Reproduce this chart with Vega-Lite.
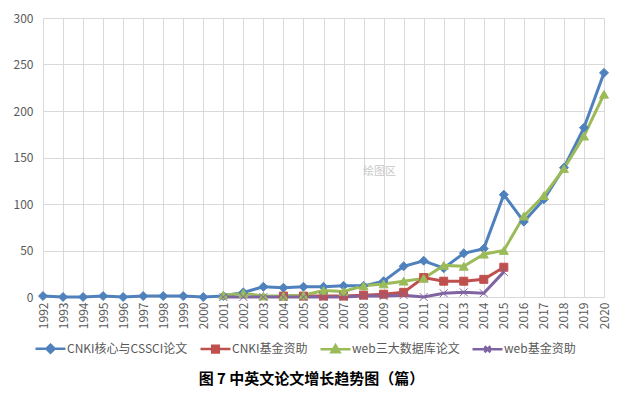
{
  "$schema": "https://vega.github.io/schema/vega-lite/v6.json",
  "width": 561,
  "height": 279,
  "autosize": "none",
  "padding": {"left": 43, "top": 18, "right": 25, "bottom": 101},
  "background": "white",
  "title": {
    "text": "图 7  中英文论文增长趋势图（篇）",
    "orient": "bottom",
    "anchor": "middle",
    "dx": -12,
    "offset": 14,
    "font": "Noto Sans CJK SC",
    "fontSize": 15,
    "fontWeight": "bold",
    "color": "#000000"
  },
  "data": {
    "values": [
      {"year": "1992", "series": "CNKI核心与CSSCI论文", "value": 1},
      {"year": "1993", "series": "CNKI核心与CSSCI论文", "value": 0},
      {"year": "1994", "series": "CNKI核心与CSSCI论文", "value": 0},
      {"year": "1995", "series": "CNKI核心与CSSCI论文", "value": 1},
      {"year": "1996", "series": "CNKI核心与CSSCI论文", "value": 0},
      {"year": "1997", "series": "CNKI核心与CSSCI论文", "value": 1},
      {"year": "1998", "series": "CNKI核心与CSSCI论文", "value": 1},
      {"year": "1999", "series": "CNKI核心与CSSCI论文", "value": 1},
      {"year": "2000", "series": "CNKI核心与CSSCI论文", "value": 0},
      {"year": "2001", "series": "CNKI核心与CSSCI论文", "value": 1},
      {"year": "2002", "series": "CNKI核心与CSSCI论文", "value": 5},
      {"year": "2003", "series": "CNKI核心与CSSCI论文", "value": 11},
      {"year": "2004", "series": "CNKI核心与CSSCI论文", "value": 10},
      {"year": "2005", "series": "CNKI核心与CSSCI论文", "value": 11},
      {"year": "2006", "series": "CNKI核心与CSSCI论文", "value": 11},
      {"year": "2007", "series": "CNKI核心与CSSCI论文", "value": 12},
      {"year": "2008", "series": "CNKI核心与CSSCI论文", "value": 12},
      {"year": "2009", "series": "CNKI核心与CSSCI论文", "value": 17},
      {"year": "2010", "series": "CNKI核心与CSSCI论文", "value": 33},
      {"year": "2011", "series": "CNKI核心与CSSCI论文", "value": 39},
      {"year": "2012", "series": "CNKI核心与CSSCI论文", "value": 31},
      {"year": "2013", "series": "CNKI核心与CSSCI论文", "value": 47},
      {"year": "2014", "series": "CNKI核心与CSSCI论文", "value": 52},
      {"year": "2015", "series": "CNKI核心与CSSCI论文", "value": 110},
      {"year": "2016", "series": "CNKI核心与CSSCI论文", "value": 81},
      {"year": "2017", "series": "CNKI核心与CSSCI论文", "value": 105},
      {"year": "2018", "series": "CNKI核心与CSSCI论文", "value": 139},
      {"year": "2019", "series": "CNKI核心与CSSCI论文", "value": 182},
      {"year": "2020", "series": "CNKI核心与CSSCI论文", "value": 241},
      {"year": "2004", "series": "CNKI基金资助", "value": 1},
      {"year": "2005", "series": "CNKI基金资助", "value": 1},
      {"year": "2006", "series": "CNKI基金资助", "value": 1},
      {"year": "2007", "series": "CNKI基金资助", "value": 1},
      {"year": "2008", "series": "CNKI基金资助", "value": 2},
      {"year": "2009", "series": "CNKI基金资助", "value": 3},
      {"year": "2010", "series": "CNKI基金资助", "value": 5},
      {"year": "2011", "series": "CNKI基金资助", "value": 21},
      {"year": "2012", "series": "CNKI基金资助", "value": 17},
      {"year": "2013", "series": "CNKI基金资助", "value": 17},
      {"year": "2014", "series": "CNKI基金资助", "value": 19},
      {"year": "2015", "series": "CNKI基金资助", "value": 32},
      {"year": "2001", "series": "web三大数据库论文", "value": 2},
      {"year": "2002", "series": "web三大数据库论文", "value": 4},
      {"year": "2003", "series": "web三大数据库论文", "value": 1},
      {"year": "2004", "series": "web三大数据库论文", "value": 1},
      {"year": "2005", "series": "web三大数据库论文", "value": 2},
      {"year": "2006", "series": "web三大数据库论文", "value": 7},
      {"year": "2007", "series": "web三大数据库论文", "value": 6},
      {"year": "2008", "series": "web三大数据库论文", "value": 12},
      {"year": "2009", "series": "web三大数据库论文", "value": 14},
      {"year": "2010", "series": "web三大数据库论文", "value": 17},
      {"year": "2011", "series": "web三大数据库论文", "value": 20},
      {"year": "2012", "series": "web三大数据库论文", "value": 34},
      {"year": "2013", "series": "web三大数据库论文", "value": 33},
      {"year": "2014", "series": "web三大数据库论文", "value": 46},
      {"year": "2015", "series": "web三大数据库论文", "value": 50},
      {"year": "2016", "series": "web三大数据库论文", "value": 87},
      {"year": "2017", "series": "web三大数据库论文", "value": 109},
      {"year": "2018", "series": "web三大数据库论文", "value": 138},
      {"year": "2019", "series": "web三大数据库论文", "value": 173},
      {"year": "2020", "series": "web三大数据库论文", "value": 218},
      {"year": "2001", "series": "web基金资助", "value": 0},
      {"year": "2002", "series": "web基金资助", "value": 0},
      {"year": "2003", "series": "web基金资助", "value": 0},
      {"year": "2004", "series": "web基金资助", "value": 0},
      {"year": "2005", "series": "web基金资助", "value": 0},
      {"year": "2006", "series": "web基金资助", "value": 0},
      {"year": "2007", "series": "web基金资助", "value": 0},
      {"year": "2008", "series": "web基金资助", "value": 1},
      {"year": "2009", "series": "web基金资助", "value": 1},
      {"year": "2010", "series": "web基金资助", "value": 2},
      {"year": "2011", "series": "web基金资助", "value": 0},
      {"year": "2012", "series": "web基金资助", "value": 4},
      {"year": "2013", "series": "web基金资助", "value": 5},
      {"year": "2014", "series": "web基金资助", "value": 4},
      {"year": "2015", "series": "web基金资助", "value": 27}
    ]
  },
  "encoding": {
    "x": {
      "field": "year",
      "type": "ordinal",
      "scale": {"type": "point", "padding": 0},
      "axis": {
        "title": null,
        "labelAngle": -90,
        "labelPadding": 5,
        "ticks": false,
        "grid": true,
        "gridColor": "#D9D9D9",
        "domain": false,
        "labelFont": "Noto Sans CJK SC",
        "labelFontSize": 12,
        "labelColor": "#595959"
      }
    },
    "y": {
      "field": "value",
      "type": "quantitative",
      "scale": {"domain": [0, 300], "nice": false},
      "axis": {
        "title": null,
        "values": [0, 50, 100, 150, 200, 250, 300],
        "ticks": false,
        "domain": false,
        "grid": true,
        "gridColor": "#D9D9D9",
        "labelPadding": 10,
        "labelFont": "Noto Sans CJK SC",
        "labelFontSize": 12,
        "labelColor": "#595959"
      }
    }
  },
  "layer": [
    {
      "mark": {"type": "line", "strokeWidth": 3},
      "encoding": {
        "color": {
          "field": "series",
          "type": "nominal",
          "scale": {
            "domain": ["CNKI核心与CSSCI论文", "CNKI基金资助", "web三大数据库论文", "web基金资助"],
            "range": ["#4F81BD", "#C0504D", "#9BBB59", "#8064A2"]
          },
          "legend": {
            "title": null,
            "orient": "none",
            "legendX": -9,
            "legendY": 314,
            "direction": "horizontal",
            "columns": 4,
            "columnPadding": 7,
            "padding": 0,
            "symbolSize": 900,
            "symbolStrokeWidth": 2.5,
            "labelOffset": 0,
            "labelFont": "Noto Sans CJK SC",
            "labelFontSize": 12,
            "labelColor": "#595959",
            "encode": {
              "symbols": {
                "update": {
                  "shape": {"signal": "datum.value === 'CNKI核心与CSSCI论文' ? 'M-1,0H1M0,-0.27L0.27,0L0,0.27L-0.27,0Z' : datum.value === 'CNKI基金资助' ? 'M-1,0H1M-0.22,-0.22H0.22V0.22H-0.22Z' : datum.value === 'web三大数据库论文' ? 'M-1,0H1M0,-0.27L0.27,0.2L-0.27,0.2Z' : 'M-1,0H1M-0.2,-0.2L0.2,0.2M-0.2,0.2L0.2,-0.2'"},
                  "size": {"value": 900},
                  "fill": {"scale": "color", "field": "value"},
                  "stroke": {"scale": "color", "field": "value"},
                  "strokeWidth": {"value": 2.5},
                  "opacity": {"value": 1}
                }
              }
            }
          }
        }
      }
    },
    {
      "transform": [{"filter": "datum.series === 'CNKI核心与CSSCI论文'"}],
      "mark": {"type": "point", "shape": "diamond", "size": 80, "filled": true, "fill": "#4F81BD", "stroke": "#4F81BD", "strokeWidth": 1, "opacity": 1}
    },
    {
      "transform": [{"filter": "datum.series === 'CNKI基金资助'"}],
      "mark": {"type": "point", "shape": "square", "size": 64, "filled": true, "fill": "#C0504D", "stroke": "#C0504D", "strokeWidth": 1, "opacity": 1}
    },
    {
      "transform": [{"filter": "datum.series === 'web三大数据库论文'"}],
      "mark": {"type": "point", "shape": "triangle-up", "size": 80, "filled": true, "fill": "#9BBB59", "stroke": "#9BBB59", "strokeWidth": 1, "opacity": 1}
    },
    {
      "transform": [{"filter": "datum.series === 'web基金资助'"}],
      "mark": {"type": "point", "shape": "M-1,-1L1,1M-1,1L1,-1", "size": 64, "filled": false, "stroke": "#8064A2", "strokeWidth": 1, "opacity": 1}
    },
    {
      "data": {"values": [{"year": "2009", "value": 134, "label": "绘图区"}]},
      "mark": {"type": "text", "dx": -4, "font": "Noto Sans CJK SC", "fontSize": 11, "color": "#C8C8C8"},
      "encoding": {
        "text": {"field": "label"}
      }
    }
  ]
}
